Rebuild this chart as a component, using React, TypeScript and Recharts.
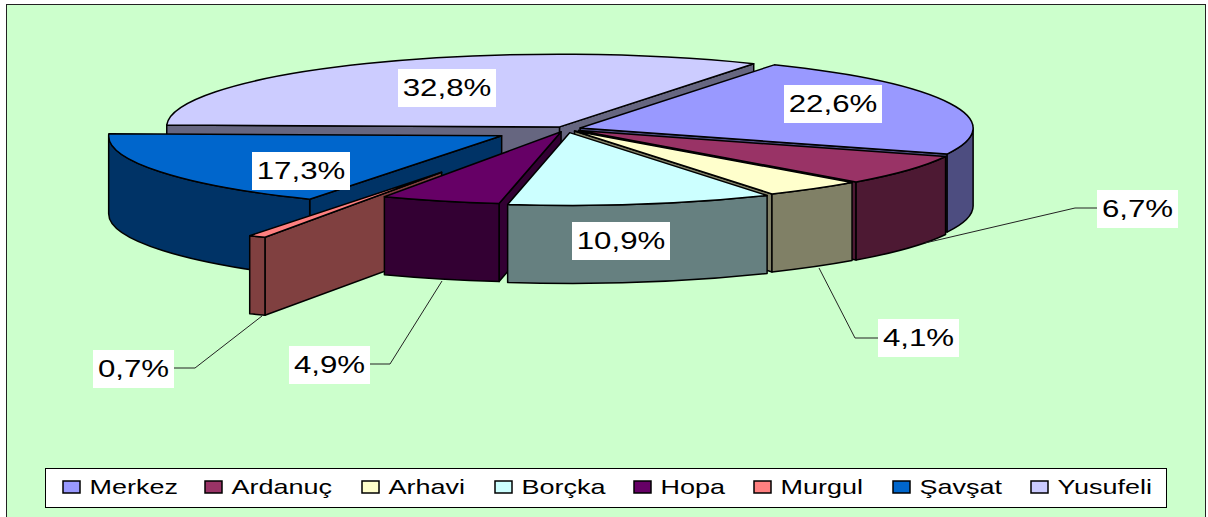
import { PieChart, Pie, Legend } from 'recharts';

const categories = ['Merkez', 'Ardanuç', 'Arhavi', 'Borçka', 'Hopa', 'Murgul', 'Şavşat', 'Yusufeli'];
const shares = [22.6, 6.7, 4.1, 10.9, 4.9, 0.7, 17.3, 32.8];
const topColors = ['#9999FF', '#993366', '#FFFFCC', '#CCFFFF', '#660066', '#FF8080', '#0066CC', '#CCCCFF'];
const sideColors = ['#4D4D80', '#4D1933', '#808066', '#668080', '#330033', '#804040', '#003366', '#666680'];

// how far each slice is pulled out of the pie, like excel's point explosion
const explosion = [15, 15, 14, 20, 16, 265, 74, 13];
// back to front
const drawOrder = [7, 0, 6, 1, 5, 4, 2, 3];

const legendX = [63, 205, 362, 495, 634, 754, 893, 1031];
const labelBoxes = [
  [784, 85], [1097, 190], [878, 319], [572, 222], [289, 346], [93, 350], [252, 152], [398, 69],
];
const labelWidths = [98, 81, 81, 98, 81, 81, 98, 98];
const leaders: (number[][] | null)[] = [
  null,
  [[1097, 208], [1075, 208], [925, 243]],
  [[878, 338], [855, 338], [819, 268]],
  null,
  [[370, 364], [390, 364], [442, 281]],
  [[174, 368], [195, 368], [262, 316]],
  null,
  null,
];

const slices = categories.map((name, i) => ({ name, value: shares[i] }));

const FLAT = 0.185;
const DEPTH = 78;
const RADIUS = 393;
const CX = 566;
const CY = 129;
const START = 60.4;
const STRETCH = 1.33;
const FONT = 'Liberation Sans, Arial, sans-serif';

function Slice3D({ sector, index }: { sector: any; index: number }) {
  // clockwise from the top of the pie, in radians
  const a1 = ((90 - sector.startAngle) * Math.PI) / 180;
  const a2 = ((90 - sector.endAngle) * Math.PI) / 180;
  const mid = (a1 + a2) / 2;
  const r = sector.outerRadius;
  const ax = sector.cx + explosion[index] * Math.sin(mid);
  const ay = sector.cy - explosion[index] * Math.cos(mid) * FLAT;
  const pt = (t: number, down = 0) => `${ax + r * Math.sin(t)} ${ay - r * FLAT * Math.cos(t) + down}`;
  const arc = (t1: number, t2: number, down = 0) => {
    const large = Math.abs(t2 - t1) > Math.PI ? 1 : 0;
    return `A ${r} ${r * FLAT} 0 ${large} ${t2 > t1 ? 1 : 0} ${pt(t2, down)}`;
  };
  const edge = { stroke: '#000', strokeWidth: 1.5, strokeLinejoin: 'round' as const };
  const side = sideColors[index];

  const faces: string[] = [];
  // radial cut faces that look towards the viewer
  const cut = (t: number) =>
    `M ${ax} ${ay} L ${pt(t)} L ${pt(t, DEPTH)} L ${ax} ${ay + DEPTH} Z`;
  if (Math.sin(a1) < 0) faces.push(cut(a1));
  if (Math.sin(a2) > 0) faces.push(cut(a2));
  // outer wall, only the front half of the rim shows
  const from = Math.max(a1, Math.PI / 2);
  const to = Math.min(a2, (Math.PI * 3) / 2);
  if (to > from) {
    faces.push(`M ${pt(from)} ${arc(from, to)} L ${pt(to, DEPTH)} ${arc(to, from, DEPTH)} Z`);
  }

  return (
    <g>
      {faces.map((d, i) => (
        <path key={i} d={d} fill={side} {...edge} />
      ))}
      <path d={`M ${ax} ${ay} L ${pt(a1)} ${arc(a1, a2)} Z`} fill={topColors[index]} {...edge} />
    </g>
  );
}

function DataLabel(props: any) {
  const i = categories.indexOf(props.name);
  const [x, y] = labelBoxes[i];
  const w = labelWidths[i];
  const line = leaders[i];
  const text = shares[i].toFixed(1).replace('.', ',') + '%';
  return (
    <g>
      {line && (
        <polyline points={line.map((p) => p.join(',')).join(' ')} fill="none" stroke="#222" strokeWidth={1} />
      )}
      <rect x={x} y={y} width={w} height={38} fill="#fff" />
      <text
        transform={`translate(${x + w / 2} ${y + 26.5}) scale(${STRETCH} 1)`}
        textAnchor="middle"
        fontFamily={FONT}
        fontSize={23.5}
        fill="#000"
      >
        {text}
      </text>
    </g>
  );
}

function LegendBox() {
  return (
    <svg width={1122} height={40} style={{ display: 'block' }}>
      <rect x={0.5} y={0.5} width={1121} height={39} fill="#fff" stroke="#000" strokeWidth={1} />
      {categories.map((name, i) => (
        <g key={name}>
          <rect x={legendX[i] - 45} y={13} width={17} height={12} fill={topColors[i]} stroke="#000" strokeWidth={1.5} />
          <text
            transform={`translate(${legendX[i] - 45 + 26.5} 25.5) scale(1.35 1)`}
            fontFamily={FONT}
            fontSize={20}
            fill="#000"
          >
            {name}
          </text>
        </g>
      ))}
    </svg>
  );
}

export default function App() {
  return (
    <div style={{ position: 'absolute', left: 0, top: 0, width: 1208, height: 517, background: '#fff', overflow: 'hidden' }}>
      <div style={{ position: 'absolute', left: 6, top: 4, width: 1198, height: 530, background: '#CCFFCC', border: '1px solid #222' }} />
      <div style={{ position: 'absolute', left: 0, top: 0 }}>
        <PieChart width={1208} height={517} margin={{ top: 0, right: 0, bottom: 0, left: 0 }}>
          {drawOrder.map((idx) => (
            <Pie
              key={idx}
              data={slices}
              dataKey="value"
              nameKey="name"
              cx={CX}
              cy={CY}
              outerRadius={RADIUS}
              startAngle={START}
              endAngle={START - 360}
              stroke="none"
              isAnimationActive={false}
              shape={(p: any) => (categories.indexOf(p.name) === idx ? <Slice3D sector={p} index={idx} /> : <g />)}
            />
          ))}
          <Pie
            data={slices}
            dataKey="value"
            nameKey="name"
            cx={CX}
            cy={CY}
            outerRadius={RADIUS}
            startAngle={START}
            endAngle={START - 360}
            stroke="none"
            isAnimationActive={false}
            shape={() => <g />}
            label={DataLabel}
            labelLine={false}
          />
          <Legend
            content={() => <LegendBox />}
            wrapperStyle={{ position: 'absolute', left: 45, top: 468, width: 1122, height: 40 }}
          />
        </PieChart>
      </div>
    </div>
  );
}
